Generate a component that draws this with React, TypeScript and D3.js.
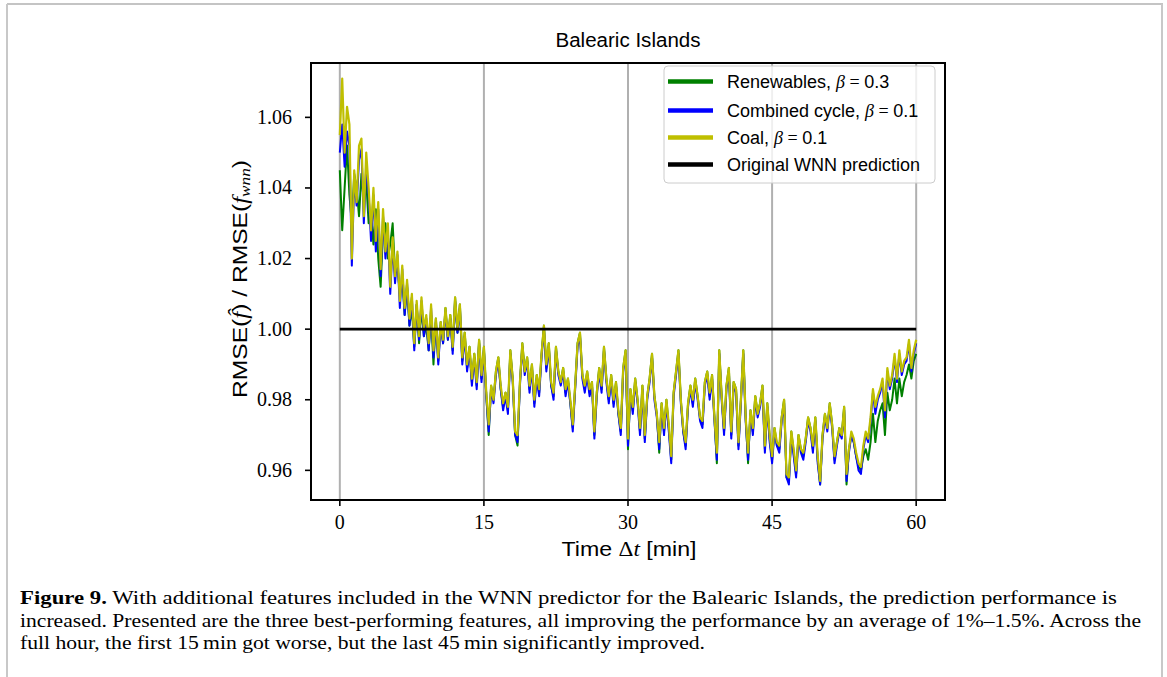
import React from "react";
import * as d3 from "d3";

const xTicks = [0, 15, 30, 45, 60];
const yTicks = [0.96, 0.98, 1.0, 1.02, 1.04, 1.06];
const timeStep = 0.25; // minutes between samples

const coal = [
1.055,1.071,1.050,1.063,1.058,1.020,1.045,1.036,1.052,1.054,
1.032,1.050,1.040,1.028,1.040,1.025,1.036,1.017,1.034,1.022,
1.030,1.012,1.026,1.015,1.022,1.008,1.018,1.006,1.014,1.003,
1.010,0.996,1.008,0.998,1.009,1.000,1.004,0.996,1.007,0.994,
1.003,0.992,1.002,0.997,1.006,0.998,1.004,0.995,1.009,1.000,
1.007,0.992,0.999,0.990,0.995,0.986,0.993,0.985,0.997,0.987,
0.995,0.982,0.973,0.984,0.980,0.988,0.992,0.984,0.979,0.982,
0.978,0.994,0.986,0.971,0.970,0.985,0.996,0.988,0.992,0.984,
0.990,0.980,0.987,0.983,0.993,1.001,0.990,0.996,0.985,0.982,
0.995,0.988,0.985,0.989,0.983,0.986,0.980,0.973,0.984,0.996,
0.999,0.987,0.984,0.988,0.983,0.985,0.971,0.982,0.989,0.984,
0.995,0.986,0.981,0.987,0.980,0.985,0.977,0.972,0.989,0.994,
0.969,0.983,0.978,0.986,0.980,0.972,0.984,0.970,0.981,0.986,
0.993,0.981,0.976,0.968,0.979,0.972,0.980,0.973,0.964,0.982,
0.988,0.994,0.980,0.972,0.968,0.979,0.984,0.980,0.986,0.981,
0.975,0.974,0.985,0.988,0.982,0.987,0.975,0.965,0.994,0.981,
0.972,0.984,0.989,0.971,0.985,0.983,0.968,0.980,0.994,0.975,
0.965,0.977,0.972,0.981,0.976,0.979,0.984,0.967,0.979,0.970,
0.964,0.972,0.968,0.967,0.975,0.980,0.959,0.958,0.971,0.966,
0.960,0.970,0.966,0.965,0.969,0.975,0.972,0.967,0.975,0.964,
0.957,0.970,0.976,0.972,0.979,0.973,0.964,0.968,0.972,0.970,
0.978,0.959,0.966,0.971,0.969,0.965,0.962,0.961,0.967,0.971,
0.969,0.975,0.983,0.978,0.981,0.983,0.986,0.977,0.989,0.984,
0.987,0.993,0.986,0.994,0.988,0.991,0.992,0.997,0.989,0.994,
0.997];

const combinedCycle = [
1.050,1.058,1.046,1.056,1.052,1.018,1.042,1.035,1.048,1.051,
1.030,1.046,1.038,1.025,1.038,1.022,1.034,1.015,1.032,1.020,
1.028,1.010,1.024,1.013,1.021,1.006,1.017,1.004,1.013,1.001,
1.009,0.994,1.007,0.997,1.008,0.998,1.003,0.994,1.006,0.992,
1.002,0.990,1.001,0.996,1.005,0.997,1.003,0.993,1.008,0.999,
1.006,0.990,0.998,0.988,0.994,0.984,0.992,0.983,0.996,0.985,
0.994,0.981,0.971,0.983,0.979,0.987,0.991,0.983,0.977,0.981,
0.976,0.993,0.985,0.970,0.968,0.984,0.995,0.987,0.991,0.982,
0.989,0.978,0.986,0.981,0.992,1.000,0.988,0.995,0.984,0.980,
0.994,0.987,0.984,0.988,0.981,0.985,0.979,0.971,0.983,0.995,
0.998,0.986,0.982,0.987,0.981,0.984,0.969,0.981,0.988,0.982,
0.994,0.985,0.979,0.986,0.978,0.984,0.976,0.970,0.988,0.993,
0.967,0.982,0.976,0.985,0.979,0.970,0.983,0.968,0.980,0.985,
0.992,0.980,0.975,0.966,0.978,0.970,0.979,0.971,0.962,0.981,
0.987,0.993,0.979,0.971,0.966,0.978,0.983,0.978,0.985,0.980,
0.974,0.972,0.984,0.987,0.980,0.986,0.974,0.963,0.993,0.980,
0.970,0.983,0.988,0.969,0.984,0.982,0.966,0.979,0.993,0.974,
0.963,0.976,0.970,0.980,0.975,0.978,0.983,0.965,0.978,0.968,
0.962,0.971,0.967,0.965,0.974,0.979,0.958,0.956,0.970,0.964,
0.958,0.969,0.965,0.963,0.968,0.974,0.971,0.965,0.974,0.962,
0.956,0.969,0.975,0.971,0.978,0.972,0.962,0.967,0.971,0.969,
0.977,0.957,0.965,0.970,0.968,0.964,0.960,0.959,0.966,0.970,
0.968,0.974,0.982,0.976,0.980,0.982,0.985,0.975,0.988,0.983,
0.986,0.992,0.985,0.993,0.987,0.990,0.991,0.996,0.988,0.993,
0.996];

const renewables = [
1.045,1.028,1.040,1.052,1.038,1.030,1.044,1.040,1.032,1.044,
1.036,1.042,1.030,1.033,1.024,1.034,1.020,1.012,1.028,1.030,
1.020,1.024,1.030,1.016,1.018,1.010,1.014,1.004,1.012,1.001,
1.006,0.995,1.007,0.996,1.006,0.998,1.001,0.994,1.004,0.990,
1.003,0.991,1.002,0.996,1.006,0.997,1.004,0.994,1.009,0.999,
1.007,0.991,0.999,0.989,0.995,0.985,0.993,0.984,0.997,0.986,
0.995,0.981,0.970,0.984,0.980,0.988,0.992,0.983,0.978,0.982,
0.977,0.994,0.986,0.970,0.967,0.985,0.996,0.988,0.992,0.983,
0.990,0.979,0.987,0.982,0.993,1.001,0.989,0.996,0.984,0.981,
0.995,0.988,0.985,0.989,0.982,0.986,0.979,0.972,0.984,0.996,
0.999,0.987,0.983,0.988,0.982,0.985,0.970,0.982,0.989,0.983,
0.995,0.986,0.980,0.987,0.979,0.985,0.976,0.971,0.989,0.994,
0.966,0.983,0.977,0.986,0.980,0.971,0.984,0.969,0.981,0.986,
0.993,0.981,0.976,0.965,0.979,0.971,0.980,0.972,0.963,0.982,
0.988,0.994,0.980,0.971,0.967,0.979,0.984,0.979,0.986,0.981,
0.975,0.973,0.985,0.988,0.981,0.987,0.975,0.962,0.994,0.981,
0.971,0.984,0.989,0.970,0.985,0.983,0.967,0.980,0.994,0.975,
0.962,0.977,0.971,0.981,0.976,0.979,0.984,0.966,0.979,0.969,
0.963,0.972,0.967,0.966,0.975,0.980,0.958,0.957,0.971,0.965,
0.959,0.970,0.966,0.964,0.969,0.975,0.972,0.966,0.975,0.963,
0.956,0.970,0.976,0.972,0.979,0.973,0.963,0.968,0.972,0.970,
0.978,0.956,0.966,0.970,0.968,0.964,0.961,0.960,0.964,0.966,
0.963,0.968,0.976,0.968,0.974,0.977,0.979,0.970,0.982,0.977,
0.980,0.986,0.979,0.986,0.981,0.985,0.987,0.990,0.986,0.991,
0.993];

const baselineTimes = [0, 60];
const baselineValues = [1.0, 1.0];

const seriesNames = ["Renewables", "Combined cycle", "Coal", "Original WNN prediction"];
const seriesBetas = ["0.3", "0.1", "0.1", ""];
const seriesColors = ["#008000", "#0000ff", "#bfbf00", "#000000"];

const captionLines = [
  "With additional features included in the WNN predictor for the Balearic Islands, the prediction performance is",
  "increased. Presented are the three best-performing features, all improving the performance by an average of 1%–1.5%. Across the",
  "full hour, the first 15\u2009min got worse, but the last 45\u2009min significantly improved.",
];

const W = 1167, H = 677;
const L = 311, R = 945, T = 63, B = 500;

export default function App() {
  const x = d3.scaleLinear().domain([-3, 63]).range([L, R]);
  const y = d3.scaleLinear().domain([0.9516, 1.0754]).range([B, T]);
  const line = d3.line<[number, number]>().x((d) => x(d[0])).y((d) => y(d[1]));
  const toPts = (arr: number[]) => arr.map((v, i) => [i * timeStep, v] as [number, number]);
  const series = [renewables, combinedCycle, coal];
  const widths = [2, 2, 2.2];
  const basePts = baselineTimes.map((t, i) => [t, baselineValues[i]] as [number, number]);
  const sans = "'Liberation Sans', 'DejaVu Sans', sans-serif";
  const serif = "'Liberation Serif', 'DejaVu Serif', serif";
  const legX = 664, legY = 66, legW = 271, legH = 117;
  const legRows = [81.5, 110.5, 137.5, 164.5];

  return (
    <svg width={W} height={H} style={{ position: "absolute", left: 0, top: 0, background: "#fff" }}>
      {/* page frame */}
      <line x1={7} y1={4} x2={1163} y2={4} stroke="#8a8a8a" strokeWidth={1.2} />
      <line x1={7} y1={4} x2={7} y2={H} stroke="#c8c8c8" strokeWidth={2} />
      <line x1={1162} y1={4} x2={1162} y2={H} stroke="#c8c8c8" strokeWidth={2} />

      <defs>
        <clipPath id="plotclip">
          <rect x={L} y={T} width={R - L} height={B - T} />
        </clipPath>
      </defs>

      {/* vertical grid */}
      {xTicks.map((t) => (
        <line key={"g" + t} x1={x(t)} x2={x(t)} y1={T} y2={B} stroke="#b0b0b0" strokeWidth={2} />
      ))}

      <g clipPath="url(#plotclip)">
        {series.map((s, k) => (
          <path key={k} d={line(toPts(s)) || ""} fill="none" stroke={seriesColors[k]} strokeWidth={widths[k]} strokeLinejoin="round" />
        ))}
        <path d={line(basePts) || ""} fill="none" stroke="#000" strokeWidth={2.8} />
      </g>

      {/* axes frame */}
      <rect x={L} y={T} width={R - L} height={B - T} fill="none" stroke="#000" strokeWidth={2} />

      {/* x ticks */}
      {xTicks.map((t) => (
        <g key={"xt" + t}>
          <line x1={x(t)} x2={x(t)} y1={B} y2={B + 6} stroke="#000" strokeWidth={1.6} />
          <text x={x(t)} y={529} textAnchor="middle" fontFamily={serif} fontSize={20}>{t}</text>
        </g>
      ))}
      {/* y ticks */}
      {yTicks.map((t) => (
        <g key={"yt" + t}>
          <line x1={L - 6} x2={L} y1={y(t)} y2={y(t)} stroke="#000" strokeWidth={1.6} />
          <text x={292} y={y(t) + 6.5} textAnchor="end" fontFamily={serif} fontSize={20}>{t.toFixed(2)}</text>
        </g>
      ))}

      {/* title */}
      <text x={628} y={47} textAnchor="middle" fontFamily={sans} fontSize={20} textLength={145} lengthAdjust="spacingAndGlyphs">Balearic Islands</text>

      {/* x label */}
      <text x={629} y={556} textAnchor="middle" fontFamily={sans} fontSize={21} textLength={135} lengthAdjust="spacingAndGlyphs">
        Time <tspan fontFamily={serif}>Δ</tspan><tspan fontFamily={serif} fontStyle="italic">t</tspan> [min]
      </text>

      {/* y label */}
      <text transform="translate(247,279) rotate(-90)" textAnchor="middle" fontFamily={sans} fontSize={20} textLength={238} lengthAdjust="spacingAndGlyphs">
        RMSE(<tspan fontFamily={serif} fontStyle="italic">f̂</tspan>) / RMSE(<tspan fontFamily={serif} fontStyle="italic">f</tspan><tspan fontFamily={serif} fontStyle="italic" fontSize={14} dy={3}>wnn</tspan><tspan dy={-3}>)</tspan>
      </text>

      {/* legend */}
      <rect x={legX} y={legY} width={legW} height={legH} rx={4} fill="#fff" fillOpacity={0.8} stroke="#cccccc" strokeWidth={1} />
      {seriesNames.map((n, k) => (
        <g key={"lg" + k}>
          <line x1={668} x2={713} y1={legRows[k]} y2={legRows[k]} stroke={seriesColors[k]} strokeWidth={4.5} />
          <text x={727} y={legRows[k] + 6} fontFamily={sans} fontSize={18}>
            {seriesBetas[k] ? (
              <>
                {n}, <tspan fontFamily={serif} fontStyle="italic">β</tspan>
                <tspan fontFamily={serif}> = </tspan>{seriesBetas[k]}
              </>
            ) : n}
          </text>
        </g>
      ))}

      {/* caption */}
      <text x={20} y={604} fontFamily={serif} fontSize={18} textLength={1097} lengthAdjust="spacingAndGlyphs">
        <tspan fontWeight="bold">Figure 9.</tspan> {captionLines[0]}
      </text>
      <text x={20} y={627} fontFamily={serif} fontSize={18} textLength={1121} lengthAdjust="spacingAndGlyphs">{captionLines[1]}</text>
      <text x={20} y={649} fontFamily={serif} fontSize={18} textLength={685} lengthAdjust="spacingAndGlyphs">{captionLines[2]}</text>
    </svg>
  );
}
